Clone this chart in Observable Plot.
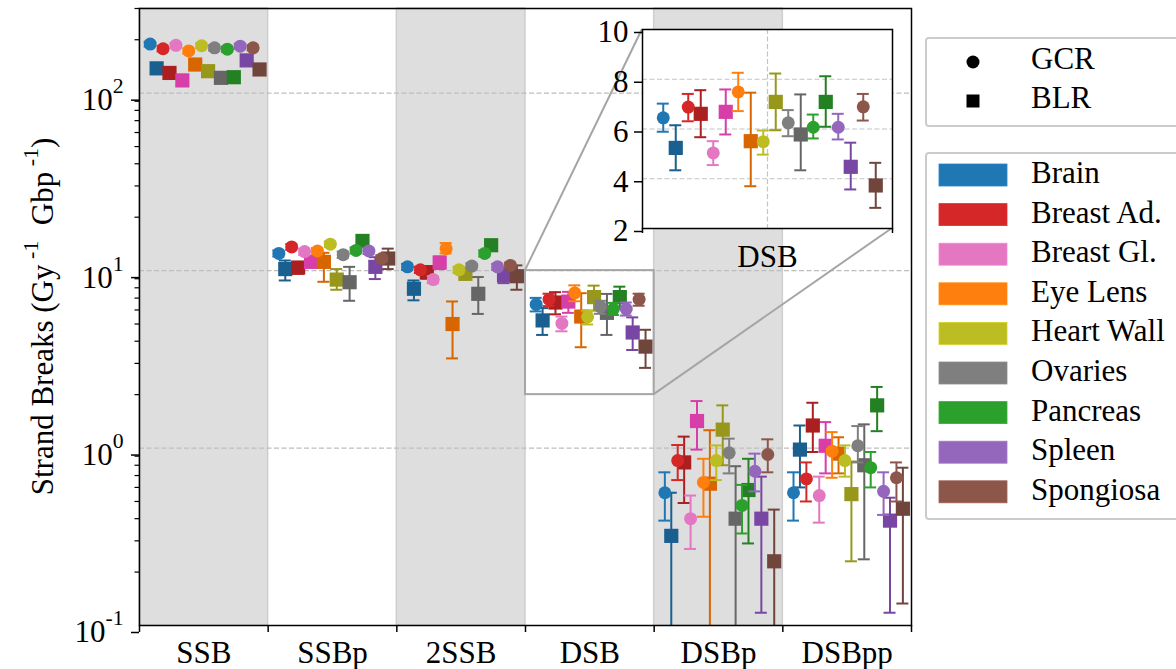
<!DOCTYPE html>
<html><head><meta charset="utf-8">
<script src="https://cdn.jsdelivr.net/npm/d3@7"></script>
<script src="https://cdn.jsdelivr.net/npm/@observablehq/plot@0.6"></script>
<style>
body{margin:0;background:#fff;}
#wrap{position:relative;width:1176px;height:669px;font-family:'Liberation Serif';}
#wrap svg{position:absolute;}
.lgt{position:absolute;left:1031px;font-family:'Liberation Serif';font-size:31px;line-height:1;color:#000;white-space:nowrap;}
</style></head><body><div id="wrap"></div>
<script>
// ---------- data ----------
const categories = ["SSB","SSBp","2SSB","DSB","DSBp","DSBpp"];
const shadedCategories = ["SSB","2SSB","DSBp"];
const organs = ["Brain","Breast Ad.","Breast Gl.","Eye Lens","Heart Wall","Ovaries","Pancreas","Spleen","Spongiosa"];
const organColors = ["#1f77b4","#d62728","#e377c2","#ff7f0e","#bcbd22","#7f7f7f","#2ca02c","#9467bd","#8c564b"];
const sources = ["GCR","BLR"];
const yDomain = [0.1, 300];
const yTicks = [0.1, 1, 10, 100];
const yTickExp = ["-1","0","1","2"];
const insetXRange = [3, 4];
const insetYRange = [2, 10];
const insetYTicks = [2, 4, 6, 8, 10];

// rows: categories, columns: organs
const gcrMean = [
  [189,178,186,173,185,180,177,184,180],
  [12.5,13.6,12.8,12.9,14.1,12.3,13.0,12.9,11.7],
  [10.5,10.1,8.9,13.3,10.1,10.6,12.5,10.5,10.7],
  [6.45,6.88,5.04,7.49,5.49,6.25,6.07,6.07,6.89],
  [0.56,0.85,0.40,0.64,0.85,0.94,0.475,0.74,0.92],
  [0.56,0.67,0.54,0.96,0.85,1.03,0.775,0.57,0.68]
];
const gcrLow = [
  [183,172,180,167,179,174,171,178,174],
  [12.0,13.1,12.3,12.4,13.6,11.8,12.5,12.4,11.2],
  [10.1,9.7,8.5,12.5,9.7,10.2,12.0,10.1,10.3],
  [5.89,6.31,4.55,6.72,4.97,5.71,5.62,5.58,6.34],
  [0.39,0.66,0.27,0.41,0.66,0.72,0.33,0.57,0.73],
  [0.39,0.50,0.38,0.68,0.69,0.83,0.60,0.42,0.50]
];
const gcrHigh = [
  [195,184,192,179,191,186,183,190,186],
  [13.0,14.1,13.3,13.4,14.6,12.8,13.5,13.4,12.2],
  [10.9,10.5,9.3,14.3,10.5,11.0,13.0,10.9,11.1],
  [7.02,7.41,5.51,8.26,5.94,6.76,6.58,6.61,7.41],
  [0.73,1.04,0.54,0.87,1.035,1.13,0.62,0.93,1.12],
  [0.73,0.83,0.69,1.23,1.035,1.33,0.95,0.73,0.83]
];
const blrMean = [
  [138,130,118,145,133,122,123,153,136],
  [10.2,10.4,11.2,11.2,8.9,8.6,14.7,10.5,11.7],
  [7.9,9.8,11.1,5.0,9.6,7.4,13.9,9.4,9.3],
  [5.24,6.61,6.69,5.51,7.09,5.78,7.09,4.48,3.73],
  [0.32,0.83,1.42,0.63,1.27,0.40,0.58,0.40,0.23],
  [0.98,1.34,1.03,0.93,0.55,0.80,1.74,0.39,0.455]
];
const blrLow = [
  [131,123,111,138,126,115,116,146,129],
  [8.8,9.6,10.5,8.65,7.8,6.76,13.9,8.96,10.2],
  [6.8,9.0,10.2,3.2,8.9,5.7,13.0,8.5,7.8],
  [4.34,5.67,5.78,3.70,5.95,4.34,6.09,3.57,2.83],
  [0.01,0.49,0.98,0.01,0.80,0.01,0.29,0.118,0.01],
  [0.60,0.95,0.72,0.72,0.23,0.236,1.245,0.118,0.133]
];
const blrHigh = [
  [145,137,125,152,140,129,130,160,143],
  [11.4,11.2,11.9,12.6,10.2,10.5,15.5,11.9,13.3],
  [8.8,10.6,12.0,6.7,10.3,9.2,14.8,10.3,10.7],
  [6.15,7.56,7.59,7.46,8.23,7.39,8.12,5.45,4.64],
  [0.56,1.16,1.84,1.26,1.74,0.79,0.87,0.69,0.45],
  [1.34,1.80,1.40,1.15,0.84,1.36,2.21,0.525,0.775]
];

// ---------- derived ----------
const FONT = "Liberation Serif";
const darkColors = organColors.map(c => { const h = d3.hsl(c); h.l *= 0.8; return h.formatHex(); });
const slotPos = d3.scalePoint().domain(d3.range(organs.length * 2)).range([0.083, 0.933]);
const rows = [];
categories.forEach((cat, ci) => organs.forEach((org, oi) => sources.forEach((src, si) => {
  const M = src === "GCR" ? [gcrMean, gcrLow, gcrHigh] : [blrMean, blrLow, blrHigh];
  const lo = M[1][ci][oi];
  rows.push({cat, ci, organ: org, oi, source: src,
    color: src === "GCR" ? organColors[oi] : darkColors[oi],
    x: ci + slotPos(oi * 2 + si), mean: M[0][ci][oi], lo, loDraw: Math.max(lo, yDomain[0]),
    loCap: lo >= yDomain[0], hi: M[2][ci][oi]});
})));

function seriesMarks(data, capHalf) {
  const marks = [];
  for (const src of ["BLR", "GCR"]) {
    const d = data.filter(r => r.source === src);
    marks.push(Plot.ruleX(d, {x: "x", y1: "loDraw", y2: "hi", stroke: "color", strokeWidth: 2}));
    marks.push(Plot.ruleY(d.filter(r => r.loCap), {y: "lo", x1: r => r.x - capHalf, x2: r => r.x + capHalf, stroke: "color", strokeWidth: 2}));
    marks.push(Plot.ruleY(d, {y: "hi", x1: r => r.x - capHalf, x2: r => r.x + capHalf, stroke: "color", strokeWidth: 2}));
    marks.push(Plot.dot(d, {x: "x", y: "mean", symbol: src === "GCR" ? "circle" : "square",
      r: src === "GCR" ? 6.5 : 8, fill: "color", stroke: "none"}));
  }
  return marks;
}

const minorTicks = [];
for (let e = -1; e <= 2; e++) for (let m = 2; m <= 9; m++) { const v = m * Math.pow(10, e); if (v <= yDomain[1]) minorTicks.push(v); }

const baseStyle = {fontFamily: FONT, fontSize: "31px", background: "transparent"};
const W = 1176, H = 669, mL = 139, mR = 265, mT = 8, mB = 44;
const mainPxPerUnit = (W - mL - mR) / categories.length;

const main = Plot.plot({
  width: W, height: H, marginLeft: mL, marginRight: mR, marginTop: mT, marginBottom: mB,
  style: baseStyle,
  color: {type: "identity"},
  x: {type: "linear", domain: [0, categories.length], axis: null, label: null},
  y: {type: "log", domain: yDomain, axis: null, label: null},
  marks: [
    Plot.rect(shadedCategories, {x1: c => categories.indexOf(c), x2: c => categories.indexOf(c) + 1,
      y1: () => yDomain[0], y2: () => yDomain[1], fill: "#dedede", stroke: "#cecece", strokeWidth: 1.5}),
    Plot.ruleY(yTicks.slice(1), {stroke: "#bdbdbd", strokeWidth: 1.2, strokeDasharray: "5,2.5"}),
    ...seriesMarks(rows, 6 / mainPxPerUnit),
    Plot.rect([0], {x1: () => insetXRange[0], x2: () => insetXRange[1], y1: () => insetYRange[0], y2: () => insetYRange[1],
      fill: "none", stroke: "#a5a5a5", strokeWidth: 2}),
    Plot.frame({stroke: "#000", strokeWidth: 1.5}),
    Plot.axisX(d3.range(categories.length + 1), {tickSize: 7, strokeWidth: 1.5, tickFormat: () => "", label: null}),
    Plot.axisX(categories.map((c, i) => i + 0.5), {tickSize: 0, tickPadding: 15, tickFormat: v => categories[Math.floor(v)], label: null}),
    Plot.axisY(yTicks, {tickSize: 8, tickPadding: 8, strokeWidth: 1.5, dy: 7, tickFormat: v => "10^" + yTickExp[yTicks.indexOf(v)], label: null}),
    Plot.axisY(minorTicks, {tickSize: 4.5, strokeWidth: 1.2, tickFormat: () => "", label: null})
  ]
});
main.style.left = "0px"; main.style.top = "0px";

// superscript tick labels
d3.select(main).selectAll("text").each(function() {
  const t = this.textContent;
  if (t.startsWith("10^")) {
    const el = d3.select(this); el.text(null);
    el.append("tspan").text("10");
    el.append("tspan").attr("dy", -17).attr("font-size", "0.7em").text(t.slice(3));
  }
});
// y label
const yl = d3.select(main).append("text")
  .attr("transform", `translate(53,${(mT + H - mB) / 2}) rotate(-90)`)
  .attr("text-anchor", "middle").attr("font-size", 31).attr("fill", "#000");
yl.append("tspan").text("Strand Breaks (Gy");
yl.append("tspan").attr("dy", -15).attr("font-size", 22).text(" -1");
yl.append("tspan").attr("dy", 15).text("  Gbp");
yl.append("tspan").attr("dy", -15).attr("font-size", 22).text(" -1");
yl.append("tspan").attr("dy", 15).text(")");
d3.select(main).selectAll("text").attr("font-family", FONT);

document.getElementById("wrap").appendChild(main);

// ---------- inset ----------
const iL = 592, iT = 15, iW = 310, iH = 254, imL = 50, imR = 10, imT = 10, imB = 45;
const insetPxPerUnit = (iW - imL - imR) / (insetXRange[1] - insetXRange[0]);
const inset = Plot.plot({
  width: iW, height: iH, marginLeft: imL, marginRight: imR, marginTop: imT, marginBottom: imB,
  style: baseStyle,
  color: {type: "identity"},
  x: {type: "linear", domain: insetXRange, axis: null, label: null},
  y: {type: "linear", domain: insetYRange, axis: null, label: null},
  marks: [
    Plot.frame({fill: "white"}),
    Plot.ruleY(insetYTicks.slice(1, -1), {stroke: "#c4c4c4", strokeWidth: 1.2, strokeDasharray: "5,2.5"}),
    Plot.ruleX([d3.mean(insetXRange)], {stroke: "#c4c4c4", strokeWidth: 1.2, strokeDasharray: "5,2.5"}),
    ...seriesMarks(rows.filter(r => r.cat === "DSB"), 6 / insetPxPerUnit),
    Plot.frame({stroke: "#000", strokeWidth: 1.5}),
    Plot.axisY(insetYTicks, {tickSize: 8, tickPadding: 6, strokeWidth: 1.5, dy: 3, label: null}),
    Plot.axisX(insetXRange, {tickSize: 5, strokeWidth: 1.5, tickFormat: () => "", label: null}),
    Plot.axisX([d3.mean(insetXRange)], {tickSize: 0, tickPadding: 16, tickFormat: () => "DSB", label: null})
  ]
});
d3.select(inset).selectAll("text").attr("font-family", FONT);
inset.style.left = iL + "px"; inset.style.top = (iT + 4) + "px";

// ---------- connectors + legend boxes ----------
const sx = main.scale("x"), sy = main.scale("y");
const ov = d3.create("svg").attr("width", W).attr("height", H)
  .style("left", "0px").style("top", "0px");
const conn = [
  [sx.apply(insetXRange[0]), sy.apply(insetYRange[1]), iL + imL, iT + 4 + imT],
  [sx.apply(insetXRange[1]), sy.apply(insetYRange[0]), iL + iW - imR, iT + 4 + iH - imB]
];
ov.selectAll("line.c").data(conn).join("line").attr("class", "c")
  .attr("x1", d => d[0]).attr("y1", d => d[1]).attr("x2", d => d[2]).attr("y2", d => d[3])
  .attr("stroke", "#a5a5a5").attr("stroke-width", 2);

const lg = ov.append("g");
lg.append("rect").attr("x", 926).attr("y", 38).attr("width", 260).attr("height", 88).attr("rx", 3)
  .attr("fill", "white").attr("stroke", "#cccccc").attr("stroke-width", 2);
lg.append("rect").attr("x", 926).attr("y", 153).attr("width", 260).attr("height", 366).attr("rx", 3)
  .attr("fill", "white").attr("stroke", "#cccccc").attr("stroke-width", 2);
const wrap = document.getElementById("wrap");
sources.forEach((s, i) => {
  const cy = 62 + i * 39;
  if (s === "GCR") lg.append("circle").attr("cx", 973).attr("cy", cy).attr("r", 6.5).attr("fill", "#000");
  else lg.append("rect").attr("x", 966.5).attr("y", cy - 6.5).attr("width", 13).attr("height", 13).attr("fill", "#000");
});
organs.forEach((o, i) => {
  const y0 = 164 + i * 39.6;
  lg.append("rect").attr("x", 939).attr("y", y0).attr("width", 68).attr("height", 22)
    .attr("fill", organColors[i]).attr("stroke", d3.color(organColors[i]).brighter(0.3)).attr("stroke-width", 0.8);
});
wrap.appendChild(ov.node());
wrap.appendChild(inset);

// legend texts as HTML (baseline ≈ top + 0.89em for line-height 1)
sources.forEach((s, i) => {
  const div = document.createElement("div"); div.className = "lgt";
  div.style.top = (62 + i * 39 + 9 - 28) + "px"; div.textContent = s; wrap.appendChild(div);
});
organs.forEach((o, i) => {
  const div = document.createElement("div"); div.className = "lgt";
  div.style.top = (164 + i * 39.6 + 21 - 28) + "px"; div.textContent = o; wrap.appendChild(div);
});
</script></body></html>
